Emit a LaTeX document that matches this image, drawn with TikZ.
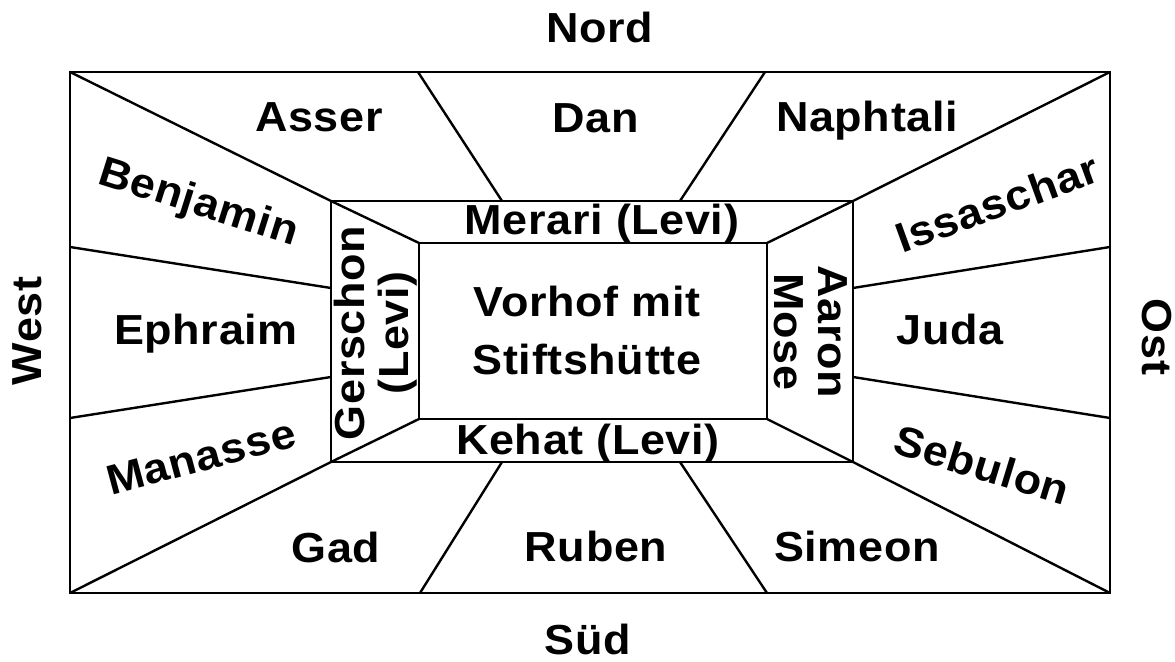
\documentclass[tikz,border=0pt]{standalone}
\usepackage{fontspec}
\setmainfont{Liberation Sans}
\newfontfamily\labfont[FakeStretch=1.07,LetterSpace=1.5]{Liberation Sans}
\begin{document}
\begin{tikzpicture}[x=0.5pt,y=-0.5pt,line width=1.2pt,line join=miter,
  lab/.style={font=\labfont\bfseries\fontsize{21}{22}\selectfont,inner sep=0pt,align=center}]
\useasboundingbox (0,0) rectangle (1175,662);
% corners
\coordinate (O1) at (70,72);   \coordinate (O2) at (1110,72);
\coordinate (O3) at (1110,593); \coordinate (O4) at (70,593);
\coordinate (M1) at (331,201); \coordinate (M2) at (853,201);
\coordinate (M3) at (853,462); \coordinate (M4) at (331,462);
\coordinate (I1) at (419,243); \coordinate (I2) at (767,243);
\coordinate (I3) at (767,419); \coordinate (I4) at (419,419);
% rectangles
\draw (O1) -- (O2) -- (O3) -- (O4) -- cycle;
\draw (M1) -- (M2) -- (M3) -- (M4) -- cycle;
\draw (I1) -- (I2) -- (I3) -- (I4) -- cycle;
% diagonals
\draw (O1) -- (M1) -- (I1);
\draw (O2) -- (M2) -- (I2);
\draw (O3) -- (M3) -- (I3);
\draw (O4) -- (M4) -- (I4);
% dividers
\draw (418,72) -- (502,201);
\draw (765,72) -- (680,201);
\draw (420,593) -- (502,462);
\draw (767,593) -- (680,462);
\draw (70,247) -- (331,288);
\draw (70,418) -- (331,377);
\draw (1110,247) -- (853,288);
\draw (1110,418) -- (853,377);
% compass
\node[lab,anchor=base] (nord) at (600,43) {Nord};
\node[lab,anchor=base] (sued) at (588,655) {Süd};
\node[lab,rotate=90] (west) at (27,331) {West};
\node[lab,rotate=-90] (ost) at (1157,337) {Ost};
% tribes
\node[lab,anchor=base] (asser) at (319,132) {Asser};
\node[lab,anchor=base] (dan) at (596,133) {Dan};
\node[lab,anchor=base] (naph) at (867,132) {Naphtali};
\node[lab,anchor=base] (gad) at (336,563) {Gad};
\node[lab,anchor=base] (ruben) at (596,562) {Ruben};
\node[lab,anchor=base] (simeon) at (857,562) {Simeon};
\node[lab,anchor=base] (ephraim) at (206,345) {Ephraim};
\node[lab,anchor=base] (juda) at (950,345) {Juda};
\node[lab,rotate=-17.5] (benj) at (198,204) {Benjamin};
\node[lab,rotate=20] (issa) at (997,203) {Issaschar};
\node[lab,rotate=15] (mana) at (201,457) {Manasse};
\node[lab,rotate=-17] (sebu) at (982,465) {Sebulon};
% Levites
\node[lab,anchor=base] (merari) at (602,235) {Merari (Levi)};
\node[lab,anchor=base] (kehat) at (588,455) {Kehat (Levi)};
\node[lab,rotate=90] (gersch) at (376,333) {Gerschon\\(Levi)};
\node[lab,rotate=-90] (aaron) at (811,332) {Aaron\\Mose};
\node[lab,font=\labfont\bfseries\fontsize{21}{29}\selectfont] (vorhof) at (587,330) {Vorhof mit\\Stiftshütte};
\end{tikzpicture}
\end{document}
